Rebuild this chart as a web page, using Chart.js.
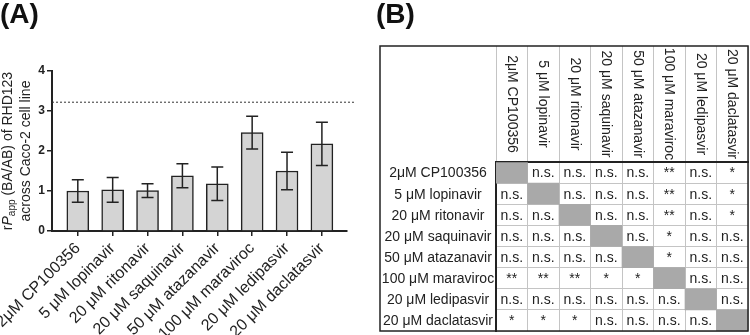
<!DOCTYPE html>
<html lang="en">
<head>
<meta charset="UTF-8">
<title>rPapp of RHD123 across Caco-2</title>
<script src="https://cdn.jsdelivr.net/npm/chart.js@4.4.1/dist/chart.umd.min.js"></script>
<style>
  body { margin: 0; background: #fff; }
  .wrap { position: relative; width: 750px; height: 335px; font-family: "Liberation Sans", Arial, sans-serif; }
  .panel { position: absolute; top: 0; }
  .tag { position: absolute; top: 0; font-size: 28px; font-weight: bold; line-height: 1; color: #111; }
</style>
</head>
<body>
<div class="wrap">
  <canvas id="chartA" class="panel" style="left:0" width="375" height="335"></canvas>
  <canvas id="chartB" class="panel" style="left:375px" width="375" height="335"></canvas>
  <div class="tag" style="left:0">(A)</div>
  <div class="tag" style="left:376px">(B)</div>
</div>

<script>
// data
const drugs = ['2μM CP100356', '5 μM lopinavir', '20 μM ritonavir', '20 μM saquinavir',
               '50 μM atazanavir', '100 μM maraviroc', '20 μM ledipasvir', '20 μM daclatasvir'];
const ratioMean = [1.00, 1.03, 1.01, 1.38, 1.18, 2.46, 1.50, 2.18];
const ratioSd = [0.28, 0.31, 0.17, 0.30, 0.42, 0.41, 0.47, 0.54];
const cutoff = 3.22;
const yTicks = [0, 1, 2, 3, 4];

// pairwise significance (row vs column), '' = same drug
const sigRows = [
  ['', 'n.s.', 'n.s.', 'n.s.', 'n.s.', '**', 'n.s.', '*'],
  ['n.s.', '', 'n.s.', 'n.s.', 'n.s.', '**', 'n.s.', '*'],
  ['n.s.', 'n.s.', '', 'n.s.', 'n.s.', '**', 'n.s.', '*'],
  ['n.s.', 'n.s.', 'n.s.', '', 'n.s.', '*', 'n.s.', 'n.s.'],
  ['n.s.', 'n.s.', 'n.s.', 'n.s.', '', '*', 'n.s.', 'n.s.'],
  ['**', '**', '**', '*', '*', '', 'n.s.', 'n.s.'],
  ['n.s.', 'n.s.', 'n.s.', 'n.s.', 'n.s.', 'n.s.', '', 'n.s.'],
  ['*', '*', '*', 'n.s.', 'n.s.', 'n.s.', 'n.s.', '']
];

const family = '"Liberation Sans", Arial, sans-serif';
const ink = '#222';
Chart.defaults.font.family = family;
Chart.defaults.color = ink;

// ---------- (A) bar chart ----------

const errorBars = {
  id: 'errorBars',
  afterDatasetsDraw(chart) {
    const ctx = chart.ctx;
    const y = chart.scales.y;
    const meta = chart.getDatasetMeta(0);
    ctx.save();
    ctx.strokeStyle = ink;
    ctx.lineWidth = 1.5;
    meta.data.forEach((bar, i) => {
      const top = y.getPixelForValue(ratioMean[i] + ratioSd[i]);
      const bot = y.getPixelForValue(ratioMean[i] - ratioSd[i]);
      ctx.beginPath();
      ctx.moveTo(bar.x, top); ctx.lineTo(bar.x, bot);
      ctx.moveTo(bar.x - 6, top); ctx.lineTo(bar.x + 6, top);
      ctx.moveTo(bar.x - 6, bot); ctx.lineTo(bar.x + 6, bot);
      ctx.stroke();
    });
    ctx.restore();
  }
};

// two-line rotated y title with italic P and subscript "app"
const yTitle = {
  id: 'yTitle',
  afterDraw(chart) {
    const ctx = chart.ctx;
    const y = chart.scales.y;
    const cy = (y.top + y.bottom) / 2;
    const f = '14px ' + family;
    const parts = [['r', f, 0], ['P', 'italic ' + f, 0], ['app', '10px ' + family, 4], [' (BA/AB) of RHD123', f, 0]];
    ctx.save();
    ctx.translate(0, cy);
    ctx.rotate(-Math.PI / 2);
    ctx.fillStyle = ink;
    ctx.textBaseline = 'middle';
    let total = 0;
    parts.forEach(p => { ctx.font = p[1]; total += ctx.measureText(p[0]).width; });
    let x = -total / 2;
    parts.forEach(p => {
      ctx.font = p[1];
      ctx.fillText(p[0], x, 8 + p[2]);
      x += ctx.measureText(p[0]).width;
    });
    ctx.font = f;
    ctx.textAlign = 'center';
    ctx.fillText('across Caco-2 cell line', 0, 26);
    ctx.restore();
  }
};

new Chart(document.getElementById('chartA'), {
  type: 'bar',
  data: {
    datasets: [
      {
        type: 'bar',
        data: ratioMean.map((v, i) => ({ x: i, y: v })),
        backgroundColor: '#d4d4d4',
        borderColor: ink,
        borderWidth: 1.5,
        barThickness: 22
      },
      {
        type: 'line',
        data: [{ x: -0.74, y: cutoff }, { x: 7.92, y: cutoff }],
        borderColor: '#333',
        borderWidth: 1,
        borderDash: [2, 2],
        pointRadius: 0,
        clip: false
      }
    ]
  },
  options: {
    responsive: false,
    animation: false,
    layout: { padding: { left: 0, top: 71, right: 28, bottom: 0 } },
    plugins: { legend: { display: false }, tooltip: { enabled: false } },
    scales: {
      x: {
        type: 'linear',
        offset: false,
        min: -0.74,
        max: 7.72,
        afterBuildTicks: s => { s.ticks = drugs.map((d, i) => ({ value: i })); },
        afterFit: s => { s.height = 104; s.paddingLeft = 0; s.paddingRight = 0; },
        ticks: {
          callback: v => drugs[v],
          autoSkip: false,
          minRotation: 45,
          maxRotation: 45,
          padding: 3,
          font: { size: 16 }
        },
        grid: { offset: false, drawOnChartArea: false, tickLength: 5, color: ink, lineWidth: 1.5 },
        border: { color: ink, width: 2 }
      },
      y: {
        min: 0,
        max: 4,
        afterBuildTicks: s => { s.ticks = yTicks.map(v => ({ value: v })); },
        afterFit: s => { s.width = 52; },
        ticks: { padding: 2, font: { size: 12, weight: 'bold' } },
        grid: { drawOnChartArea: false, tickLength: 5, color: ink, lineWidth: 1.5 },
        border: { color: ink, width: 2 }
      }
    }
  },
  plugins: [errorBars, yTitle]
});

// ---------- (B) significance table ----------

const diagCells = [];
sigRows.forEach((row, r) => row.forEach((s, c) => {
  if (s === '') diagCells.push({ x: c + 0.5, y: [r, r + 1] });
}));

const tableText = {
  id: 'tableText',
  afterDraw(chart) {
    const ctx = chart.ctx;
    const xs = chart.scales.x, ys = chart.scales.y;
    const area = chart.chartArea;
    ctx.save();
    ctx.fillStyle = ink;
    ctx.font = '14px ' + family;
    ctx.textAlign = 'center';
    ctx.textBaseline = 'middle';
    // cells
    sigRows.forEach((row, r) => row.forEach((s, c) => {
      if (s) ctx.fillText(s, xs.getPixelForValue(c + 0.5), ys.getPixelForValue(r + 0.5) + 1);
    }));
    // row labels
    const rowX = (ys.left + ys.right) / 2;
    drugs.forEach((d, r) => ctx.fillText(d, rowX, ys.getPixelForValue(r + 0.5) + 1));
    // column headers, reading top to bottom
    const headY = (xs.top + xs.bottom) / 2;
    drugs.forEach((d, c) => {
      ctx.save();
      ctx.translate(xs.getPixelForValue(c + 0.5), headY);
      ctx.rotate(Math.PI / 2);
      ctx.fillText(d, 0, 0);
      ctx.restore();
    });
    // outer frame
    ctx.strokeStyle = ink;
    ctx.lineWidth = 1.5;
    ctx.strokeRect(ys.left, xs.top, area.right - ys.left, area.bottom - xs.top);
    ctx.restore();
  }
};

new Chart(document.getElementById('chartB'), {
  type: 'bar',
  data: {
    datasets: [{
      data: diagCells,
      backgroundColor: '#a9a9a9',
      borderWidth: 0,
      barPercentage: 1,
      categoryPercentage: 1
    }]
  },
  options: {
    responsive: false,
    animation: false,
    layout: { padding: { left: 5, top: 46, right: 2, bottom: 4 } },
    plugins: { legend: { display: false }, tooltip: { enabled: false } },
    scales: {
      x: {
        type: 'linear',
        position: 'top',
        offset: false,
        min: 0,
        max: 8,
        afterBuildTicks: s => { s.ticks = [0, 1, 2, 3, 4, 5, 6, 7, 8].map(v => ({ value: v })); },
        afterFit: s => { s.height = 116; s.paddingLeft = 0; s.paddingRight = 0; },
        ticks: { display: false },
        grid: { offset: false, tickLength: 116, color: '#c4c4c4', lineWidth: 1 },
        border: { color: ink, width: 2 }
      },
      y: {
        type: 'linear',
        reverse: true,
        min: 0,
        max: 8,
        afterBuildTicks: s => { s.ticks = [0, 1, 2, 3, 4, 5, 6, 7, 8].map(v => ({ value: v })); },
        afterFit: s => { s.width = 116; },
        ticks: { display: false },
        grid: { drawTicks: false, color: '#c4c4c4', lineWidth: 1 },
        border: { color: ink, width: 2 }
      }
    }
  },
  plugins: [tableText]
});
</script>
</body>
</html>
